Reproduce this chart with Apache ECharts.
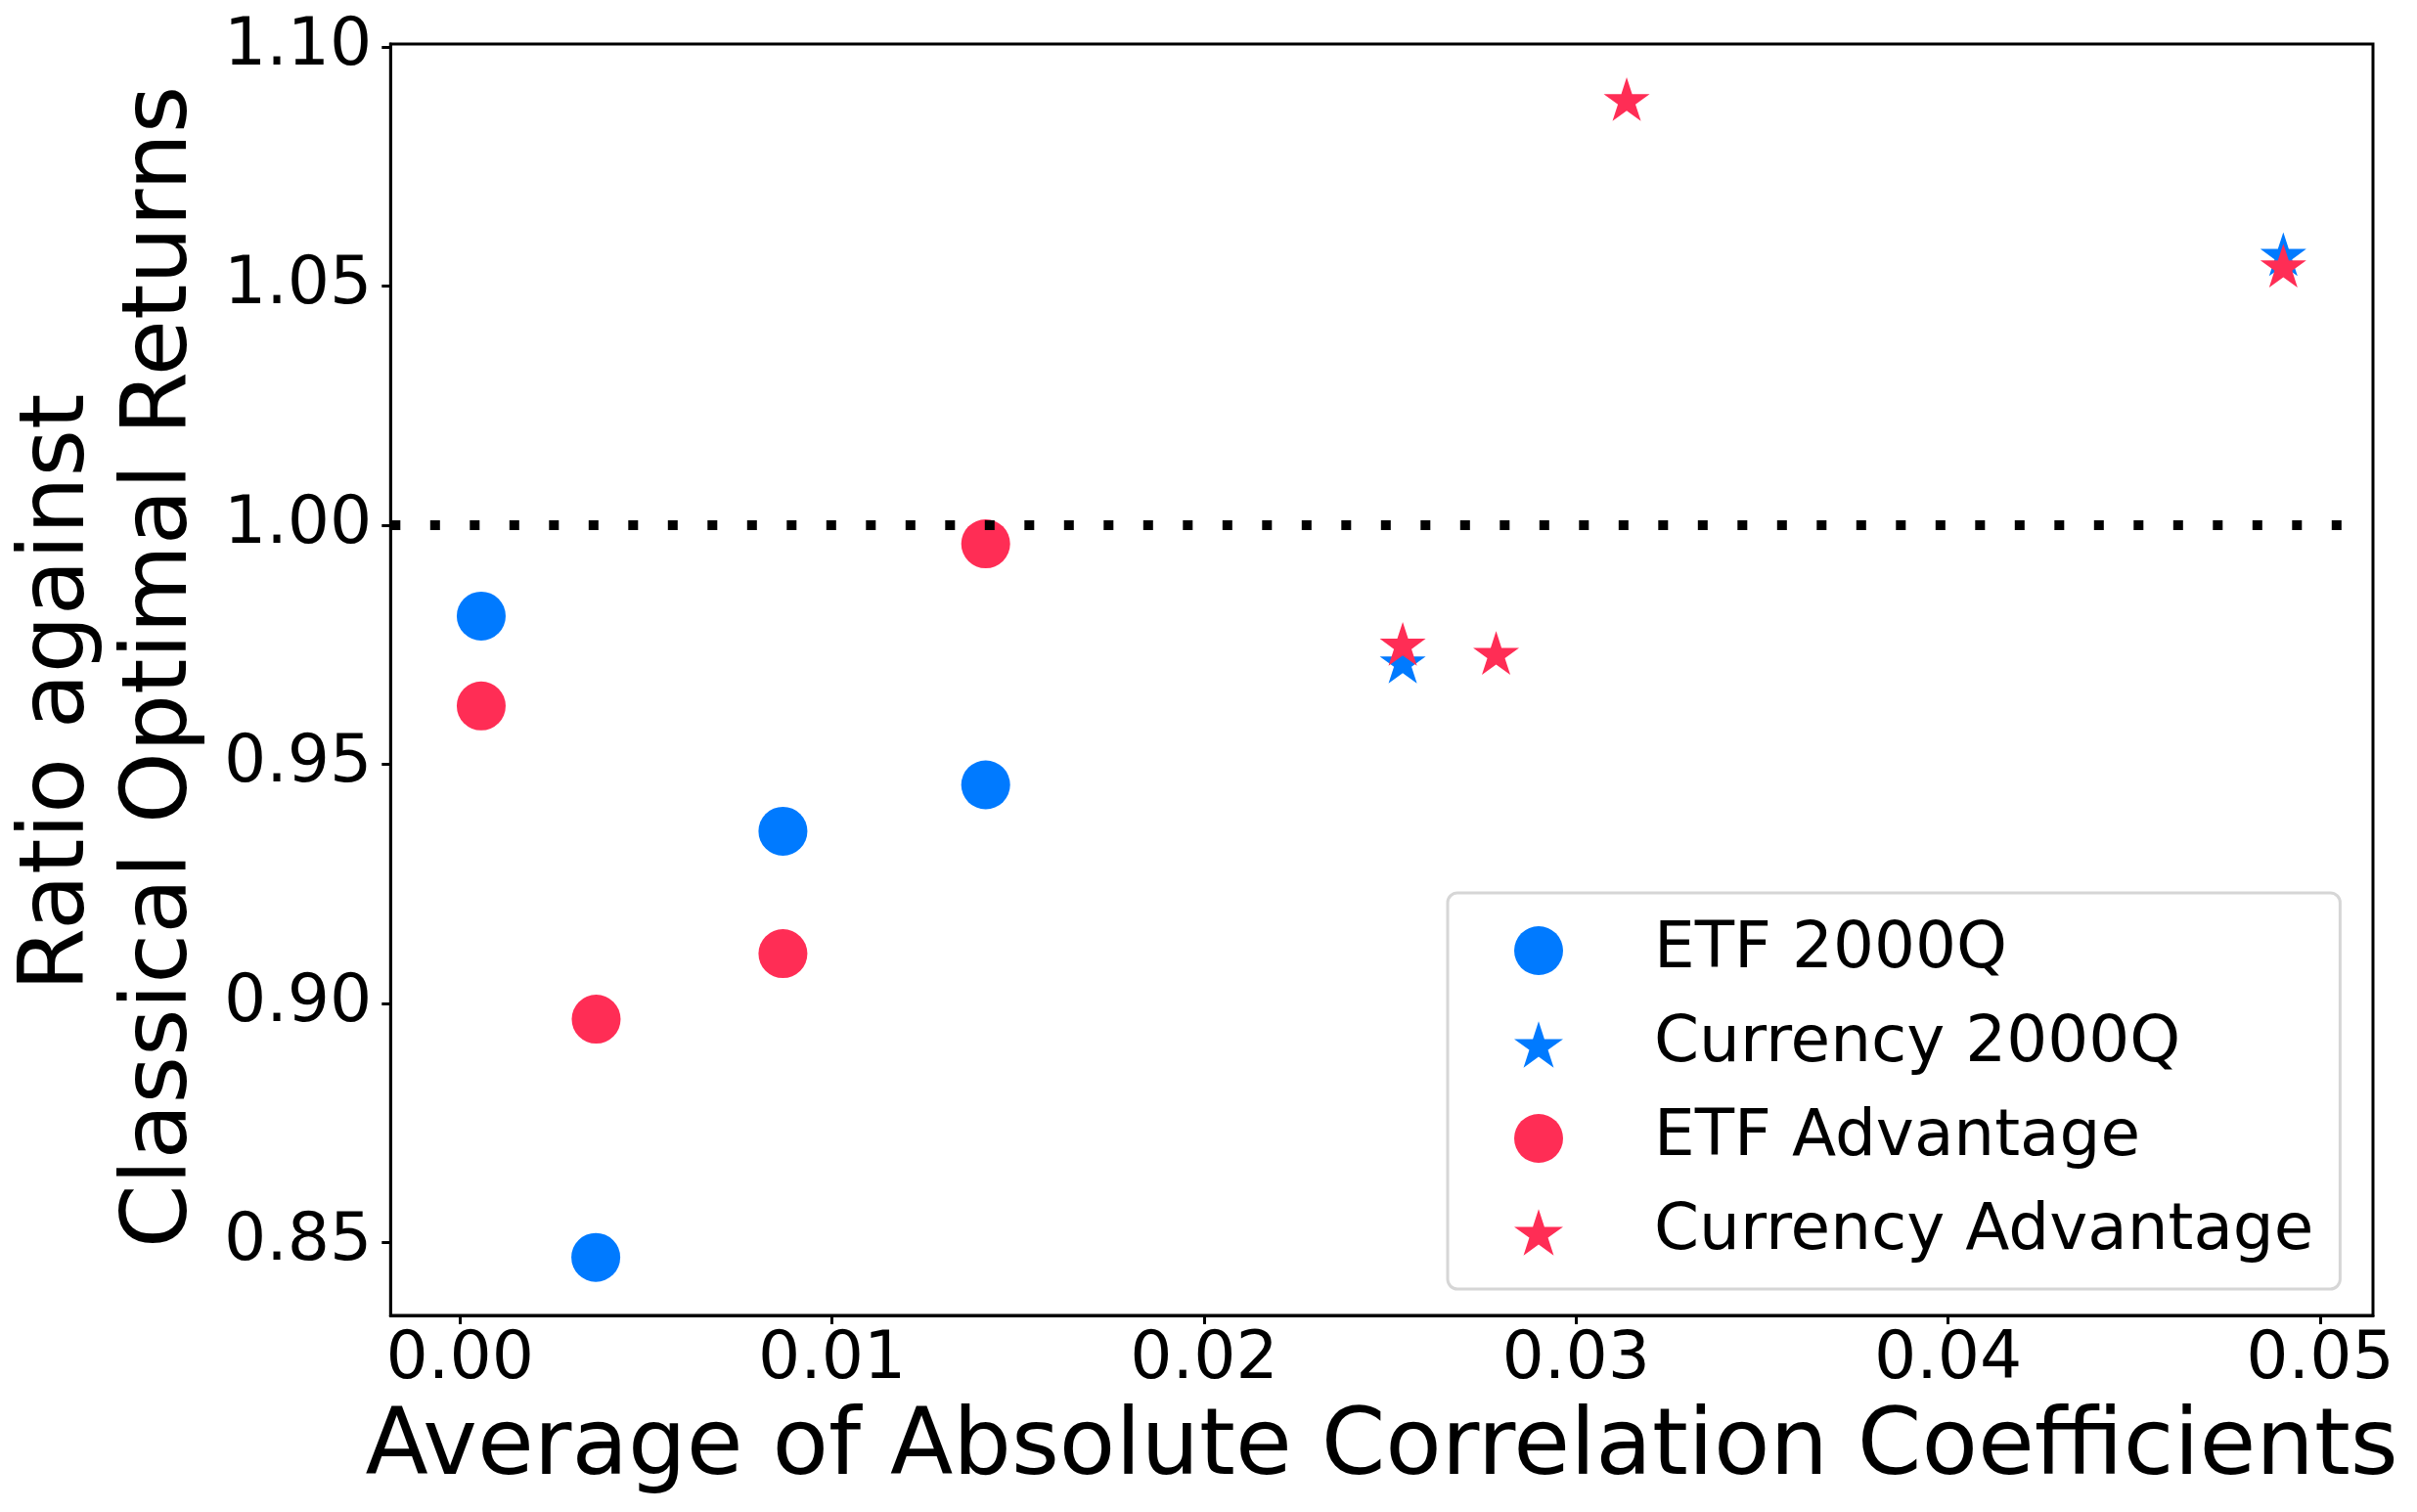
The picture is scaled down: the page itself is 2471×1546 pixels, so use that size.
<!DOCTYPE html>
<html>
<head>
<meta charset="utf-8">
<script src="https://cdn.jsdelivr.net/npm/echarts@6/dist/echarts.min.js"></script>
<style>
html,body{margin:0;padding:0;background:#fff;}
#chart{width:2471px;height:1546px;}
</style>
</head>
<body>
<div id="chart"></div>
<script>
// ---- data ----
var seriesNames = ['ETF 2000Q', 'Currency 2000Q', 'ETF Advantage', 'Currency Advantage'];
var etf2000Q = [[0.00057, 0.9810], [0.00365, 0.8469], [0.00868, 0.9360], [0.01413, 0.9457]];
var currency2000Q = [[0.02534, 0.9710], [0.04901, 1.0562]];
var etfAdvantage = [[0.00057, 0.9622], [0.00366, 0.8967], [0.00868, 0.9104], [0.01413, 0.9961]];
var currencyAdvantage = [[0.02534, 0.9747], [0.02785, 0.9728], [0.03136, 1.0886], [0.04901, 1.0538]];
var refLine = [[-0.001866, 1.0], [0.05063, 1.0]];
var xTicks = [0.00, 0.01, 0.02, 0.03, 0.04, 0.05];
var yTicks = [0.85, 0.90, 0.95, 1.00, 1.05, 1.10];
var xRange = [-0.001866, 0.05142];
var yRange = [0.83476, 1.10061];
var xTitle = 'Average of Absolute Correlation Coefficients';
var yTitleLines = ['Ratio against', 'Classical Optimal Returns'];

var BLUE = '#007AFF', RED = '#FF2D55';
var STAR = 'path://M100,0 L77.55,69.1 L4.89,69.1 L63.67,111.8 L41.22,180.9 L100,138.2 L158.78,180.9 L136.33,111.8 L195.11,69.1 L122.45,69.1 Z';
var FONT = 'DejaVu Sans';

var chart = echarts.init(document.getElementById('chart'), null, {renderer: 'canvas'});
var option = {
  backgroundColor: '#fff',
  animation: false,
  textStyle: {fontFamily: FONT},
  grid: {left: 399, right: 45, top: 45, bottom: 201, show: true, borderColor: '#000', borderWidth: 3, backgroundColor: 'transparent'},
  legend: {
    left: 1480, top: 913,
    orient: 'vertical',
    itemWidth: 50, itemHeight: 50,
    itemGap: 30,
    padding: [26, 27, 25, 68],
    backgroundColor: '#fff',
    borderColor: '#d6d6d6', borderWidth: 3, borderRadius: 10,
    textStyle: {fontFamily: FONT, fontSize: 66, color: '#000', lineHeight: 66, padding: [0, 0, 0, 88]},
    data: [
      {name: seriesNames[0], icon: 'circle'},
      {name: seriesNames[1], icon: STAR},
      {name: seriesNames[2], icon: 'circle'},
      {name: seriesNames[3], icon: STAR}
    ]
  },
  xAxis: {
    type: 'value', min: xRange[0], max: xRange[1],
    name: xTitle,
    nameLocation: 'middle', nameGap: 91,
    nameTextStyle: {fontFamily: FONT, fontSize: 94, color: '#000', lineHeight: 94},
    splitLine: {show: false},
    axisLine: {show: true, onZero: false, lineStyle: {color: '#000', width: 3}},
    axisTick: {show: true, inside: false, length: 9, lineStyle: {color: '#000', width: 3}, customValues: xTicks},
    axisLabel: {fontFamily: FONT, fontSize: 68, color: '#000', margin: 12, customValues: xTicks,
      formatter: function (v) { return v.toFixed(2); }}
  },
  yAxis: {
    type: 'value', min: yRange[0], max: yRange[1],
    name: '{a|' + yTitleLines[0] + '}\n{b|' + yTitleLines[1] + '}',
    nameLocation: 'middle', nameGap: 181,
    nameTextStyle: {fontFamily: FONT, fontSize: 93, color: '#000', lineHeight: 105, align: 'center',
      rich: {
        a: {fontFamily: FONT, fontSize: 93, color: '#000', lineHeight: 105, padding: [0, 26, 0, 0]},
        b: {fontFamily: FONT, fontSize: 93, color: '#000', lineHeight: 105, padding: [0, 0, 0, 26]}
      }},
    splitLine: {show: false},
    axisLine: {show: true, onZero: false, lineStyle: {color: '#000', width: 3}},
    axisTick: {show: true, inside: false, length: 9, lineStyle: {color: '#000', width: 3}, customValues: yTicks},
    axisLabel: {fontFamily: FONT, fontSize: 68, color: '#000', margin: 19, customValues: yTicks,
      formatter: function (v) { return v.toFixed(2); }}
  },
  series: [
    {name: seriesNames[0], type: 'scatter', data: etf2000Q, symbol: 'circle', symbolSize: 50,
      itemStyle: {color: BLUE, opacity: 1}, z: 2},
    {name: seriesNames[1], type: 'scatter', data: currency2000Q, symbol: STAR, symbolSize: 47, symbolKeepAspect: true,
      symbolOffset: [0, -2.3], itemStyle: {color: BLUE, opacity: 1}, z: 3},
    {name: seriesNames[2], type: 'scatter', data: etfAdvantage, symbol: 'circle', symbolSize: 50,
      itemStyle: {color: RED, opacity: 1}, z: 4},
    {name: seriesNames[3], type: 'scatter', data: currencyAdvantage, symbol: STAR, symbolSize: 47, symbolKeepAspect: true,
      symbolOffset: [0, -2.3], itemStyle: {color: RED, opacity: 1}, z: 5},
    {name: 'ref', type: 'line', data: refLine, symbol: 'none', silent: true, z: 6,
      lineStyle: {color: '#000', width: 10, type: [10, 30.5], cap: 'butt'}}
  ]
};
chart.setOption(option);
</script>
</body>
</html>
